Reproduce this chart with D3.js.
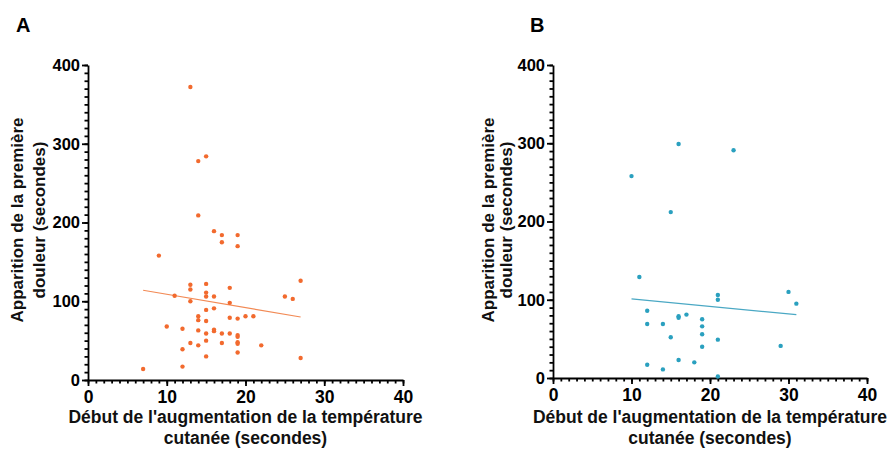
<!DOCTYPE html>
<html>
<head>
<meta charset="utf-8">
<script src="https://cdn.jsdelivr.net/npm/d3@7"></script>
<style>
  body { margin: 0; background: #fff; }
  svg { font-family: "Liberation Sans", Arial, sans-serif; font-weight: bold; }
</style>
</head>
<body>
<svg id="chart" width="891" height="450"></svg>
<script>
// panel A - orange
const xA = [13,15,14,14,16,17,19,17,19,9,13,13,15,15,15,16,18,11,13,18,15,16,14,14,15,18,19,10,12,14,16,16,15,17,18,19,19,13,14,15,17,19,19,12,19,15,12,7,20,21,22,25,26,27,27];
const yA = [372,284,278,209,189,184,184,175,170,158,121,115,122,111,106,106,117,107,100,98,89,91,81,76,75,79,78,68,65,63,64,62,59,59,59,57,55,47,44,50,47,48,46,39,35,30,17,14,81,81,44,106,103,126,28];
const fitAx = [7, 27];
const fitAy = [114, 80];

// panel B - teal
const xB = [16,10,15,23,11,12,12,14,12,14,15,16,16,17,16,18,19,19,19,19,21,21,21,21,30,31,29];
const yB = [299,258,212,291,129,86,69,69,17,11,52,77,79,81,23,20,75,66,56,40,106,100,49,2,110,95,41];
const fitBx = [10, 31];
const fitBy = [101, 81];

const xMajor = [0, 10, 20, 30, 40];
const yMajor = [0, 100, 200, 300, 400];
const xTitle = ["Début de l'augmentation de la température", "cutanée (secondes)"];
const yTitle = ["Apparition de la première", "douleur (secondes)"];

const svg = d3.select("#chart");

function panel(p) {
    const x = d3.scaleLinear().domain([0, 40]).range([p.left, p.right]);
    const y = d3.scaleLinear().domain([0, 400]).range([p.bottom, p.top]);
    const g = svg.append("g");

    // minor ticks first
    g.append("g")
        .attr("transform", `translate(0,${p.bottom})`)
        .call(d3.axisBottom(x).tickValues(d3.range(0, 41, 1)).tickSize(3.5).tickFormat(""))
        .call(a => a.select(".domain").remove());
    g.append("g")
        .attr("transform", `translate(${p.left},0)`)
        .call(d3.axisLeft(y).tickValues(d3.range(0, 401, 10)).tickSize(3.5).tickFormat(""))
        .call(a => a.select(".domain").remove());

    const xa = g.append("g")
        .attr("transform", `translate(0,${p.bottom})`)
        .call(d3.axisBottom(x).tickValues(xMajor).tickSize(6).tickSizeOuter(0).tickPadding(5));
    xa.selectAll("text").attr("font-size", 17.5).attr("font-weight", "bold")
        .attr("font-family", "Liberation Sans, Arial, sans-serif").attr("fill", "#000");

    const ya = g.append("g")
        .attr("transform", `translate(${p.left},0)`)
        .call(d3.axisLeft(y).tickValues(yMajor).tickSize(6).tickSizeOuter(0).tickPadding(2));
    ya.selectAll("text").attr("font-size", 16.5).attr("font-weight", "bold")
        .attr("font-family", "Liberation Sans, Arial, sans-serif").attr("fill", "#000");

    g.selectAll(".domain, .tick line").attr("stroke", "#000").attr("stroke-width", 1.8);

    // fit line
    g.append("line")
        .attr("x1", x(p.fx[0])).attr("y1", y(p.fy[0]))
        .attr("x2", x(p.fx[1])).attr("y2", y(p.fy[1]))
        .attr("stroke", p.line).attr("stroke-width", 1.2);

    g.selectAll("circle")
        .data(p.xs.map((v, i) => [v, p.ys[i]]))
        .join("circle")
        .attr("cx", d => x(d[0]))
        .attr("cy", d => y(d[1]))
        .attr("r", 2.2)
        .attr("fill", p.color);

    // titles
    const cx = (p.left + p.right) / 2;
    g.selectAll("text.xt")
        .data(xTitle)
        .join("text")
        .attr("class", "xt")
        .attr("x", cx)
        .attr("y", (d, i) => 423 + i * 21)
        .attr("text-anchor", "middle")
        .attr("font-size", 17.5)
        .attr("fill", "#111")
        .text(d => d);

    const cy = 220;
    g.selectAll("text.yt")
        .data(yTitle)
        .join("text")
        .attr("class", "yt")
        .attr("transform", (d, i) => `translate(${p.yt[i]},${cy}) rotate(-90)`)
        .attr("text-anchor", "middle")
        .attr("font-size", 17)
        .attr("fill", "#111")
        .text(d => d);

    g.append("text")
        .attr("x", p.lx).attr("y", 32)
        .attr("font-size", 20)
        .attr("fill", "#000")
        .text(p.label);
}

panel({ left: 88, right: 403, top: 65, bottom: 380, xs: xA, ys: yA, fx: fitAx, fy: fitAy,
        color: "#f26a2e", line: "#f28a55", yt: [23, 45], lx: 16, label: "A" });
panel({ left: 553, right: 867, top: 65, bottom: 378, xs: xB, ys: yB, fx: fitBx, fy: fitBy,
        color: "#2aa0bf", line: "#4aa8c4", yt: [494, 512], lx: 530, label: "B" });
</script>
</body>
</html>
